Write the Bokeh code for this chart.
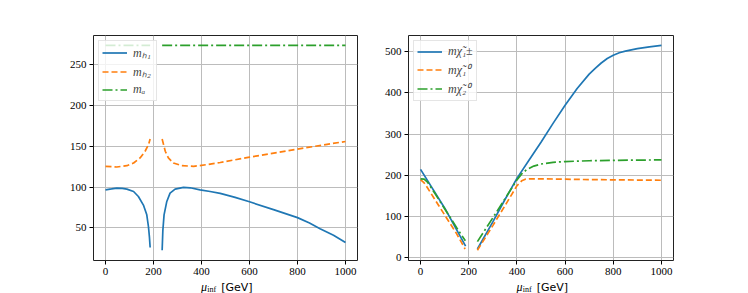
import numpy as np
from bokeh.plotting import figure
from bokeh.layouts import row, column
from bokeh.models import Legend, LegendItem, FixedTicker, Range1d
from bokeh.core.properties import value
from bokeh.embed import file_html
from bokeh.resources import INLINE

nan = float("nan")

# ---- left panel: Higgs masses vs mu_inf ----
mh1_x = [0, 25, 47, 70, 89, 117, 137, 158, 172, 179, 183, 186, nan,
         236, 239, 244, 255, 269, 290, 325, 353, 394, 436, 478, 540, 600, 700, 800, 850, 894, 950, 1000]
mh1_y = [96.7, 97.8, 98.8, 98.4, 97.5, 94.6, 88.5, 78, 66, 51.4, 39, 26, nan,
         22.6, 47, 66, 82, 92.6, 97.5, 99.6, 99.2, 96.7, 94.6, 92.4, 87.5, 82, 72.4, 62.6, 56, 49, 41, 32]

mh2_x = [0, 47, 89, 117, 144, 165, 179, 186, nan,
         236, 249, 262, 283, 318, 367, 422, 478, 600, 800, 1000]
mh2_y = [125.5, 124.7, 126.3, 129.6, 135.8, 144, 152, 159, nan,
         159, 144, 135.8, 129.6, 126.3, 125.5, 127.6, 130.2, 136.8, 146.7, 156]

ma_x = [0, 186, nan, 236, 1000]
ma_y = [274, 274, nan, 274, 274]

# ---- right panel: chargino / neutralino masses vs mu_inf ----
c1_x = [0, 100, 187, nan, 236, 300, 350, 400, 450, 500, 550, 600, 650, 700, 725, 750, 775,
        800, 825, 850, 900, 950, 1000]
c1_y = [214, 120, 27, nan, 20, 86, 140, 192, 236, 280, 326, 370, 411, 446, 460, 473, 484,
        492, 498, 502, 508, 512.5, 516]

n1_x = [0, 15, 30, 60, 100, 150, 185, nan,
        236, 300, 350, 400, 420, 435, 450, 500, 600, 700, 800, 900, 1000]
n1_y = [189, 181, 168, 140, 103, 57, 20, nan,
        17, 77, 125, 174, 186, 190, 191, 191, 190, 189, 188.5, 188, 187.5]

n2_x = [0, 15, 30, 60, 100, 150, 186, nan,
        236, 300, 350, 400, 420, 440, 470, 500, 550, 600, 700, 800, 900, 1000]
n2_y = [191, 190, 182, 155, 118, 72, 40, nan,
        38, 96, 142, 188, 203, 213, 222, 227, 231, 233, 235, 236, 236.5, 237]

x_ticks = [0, 200, 400, 600, 800, 1000]
left_y_ticks = [50, 100, 150, 200, 250]
right_y_ticks = [0, 100, 200, 300, 400, 500]

left_labels = ["m\u2095\u2081", "m\u2095\u2082", "m\u2090"]
right_labels = ["m\u03c7\u0303\u2081\u00b1", "m\u03c7\u0303\u2081\u2070", "m\u03c7\u0303\u2082\u2070"]

xlabel_parts = ["\u03bc", "inf", "[GeV]"]

BLUE, ORANGE, GREEN = "#1f77b4", "#ff7f0e", "#2ca02c"
TICK_FONT = "Liberation Serif"
DASHED = "6 3"
DASHDOT = "10 3 2 3"


def style(p, yticks):
    for ax in (p.xaxis, p.yaxis):
        ax.axis_line_color = None
        ax.major_tick_in = 0
        ax.major_tick_out = 4
        ax.major_tick_line_color = "black"
        ax.minor_tick_line_color = None
        ax.major_label_text_font = TICK_FONT
        ax.major_label_text_font_size = "11px"
        ax.major_label_text_color = "black"
        ax.major_label_standoff = 3
    p.xaxis.ticker = FixedTicker(ticks=x_ticks)
    p.yaxis.ticker = FixedTicker(ticks=yticks)
    p.grid.grid_line_color = "#bcbcbc"
    p.grid.grid_line_width = 1
    p.outline_line_color = "#222222"
    p.outline_line_width = 1
    p.background_fill_color = "white"
    p.border_fill_color = "white"


def make_legend(items):
    lg = Legend(items=items, location="top_left")
    lg.margin = 5
    lg.padding = 3
    lg.spacing = 2
    lg.glyph_width = 25
    lg.glyph_height = 15
    lg.label_height = 15
    lg.label_standoff = 6
    lg.label_text_font = "Liberation Serif"
    lg.label_text_font_style = "italic"
    lg.label_text_font_size = "12px"
    lg.border_line_color = "#cccccc"
    lg.border_line_width = 1
    lg.background_fill_alpha = 0.8
    return lg


def label_strip(x_range, left, frame_w, right):
    s = figure(frame_width=frame_w, frame_height=13, min_border_left=left, min_border_right=right,
               min_border_top=0, min_border_bottom=0, x_range=x_range, y_range=Range1d(0, 13),
               x_axis_location=None, y_axis_location=None,
               output_backend="svg", toolbar_location=None)
    s.grid.visible = False
    s.outline_line_color = None
    s.border_fill_color = "white"
    s.text(x=[398], y=[6.5], text=[xlabel_parts[0]], text_font=value("Liberation Serif"),
           text_font_style="italic", text_font_size="12px", text_baseline="middle",
           text_align="left", text_color="black")
    s.text(x=[424], y=[4], text=[xlabel_parts[1]], text_font=value("Liberation Serif"),
           text_font_size="8px", text_baseline="middle", text_align="left", text_color="black")
    s.text(x=[482], y=[6.5], text=[xlabel_parts[2]], text_font=value("DejaVu Sans"),
           text_font_size="11px", text_baseline="middle", text_align="left", text_color="black")
    return s


p1 = figure(frame_width=264, frame_height=225, min_border_left=93, min_border_right=10,
            min_border_top=35, min_border_bottom=20,
            x_range=Range1d(-50, 1050), y_range=Range1d(10, 286),
            output_backend="svg", toolbar_location=None)
r1 = p1.line(mh1_x, mh1_y, line_color=BLUE, line_width=1.7)
r2 = p1.line(mh2_x, mh2_y, line_color=ORANGE, line_width=1.7, line_dash=DASHED)
r3 = p1.line(ma_x, ma_y, line_color=GREEN, line_width=1.7, line_dash=DASHDOT)
style(p1, left_y_ticks)
p1.add_layout(make_legend([LegendItem(label=left_labels[0], renderers=[r1]),
                           LegendItem(label=left_labels[1], renderers=[r2]),
                           LegendItem(label=left_labels[2], renderers=[r3])]))

p2 = figure(frame_width=265, frame_height=225, min_border_left=41, min_border_right=20,
            min_border_top=35, min_border_bottom=20,
            x_range=Range1d(-50, 1050), y_range=Range1d(-8, 540),
            output_backend="svg", toolbar_location=None)
s1 = p2.line(c1_x, c1_y, line_color=BLUE, line_width=1.7)
s2 = p2.line(n1_x, n1_y, line_color=ORANGE, line_width=1.7, line_dash=DASHED)
s3 = p2.line(n2_x, n2_y, line_color=GREEN, line_width=1.7, line_dash=DASHDOT)
style(p2, right_y_ticks)
p2.add_layout(make_legend([LegendItem(label=right_labels[0], renderers=[s1]),
                           LegendItem(label=right_labels[1], renderers=[s2]),
                           LegendItem(label=right_labels[2], renderers=[s3])]))

strip1 = label_strip(p1.x_range, 93, 264, 10)
strip2 = label_strip(p2.x_range, 41, 265, 20)

layout = column(row(p1, p2), row(strip1, strip2))
open("out.html", "w").write(file_html(layout, INLINE))
